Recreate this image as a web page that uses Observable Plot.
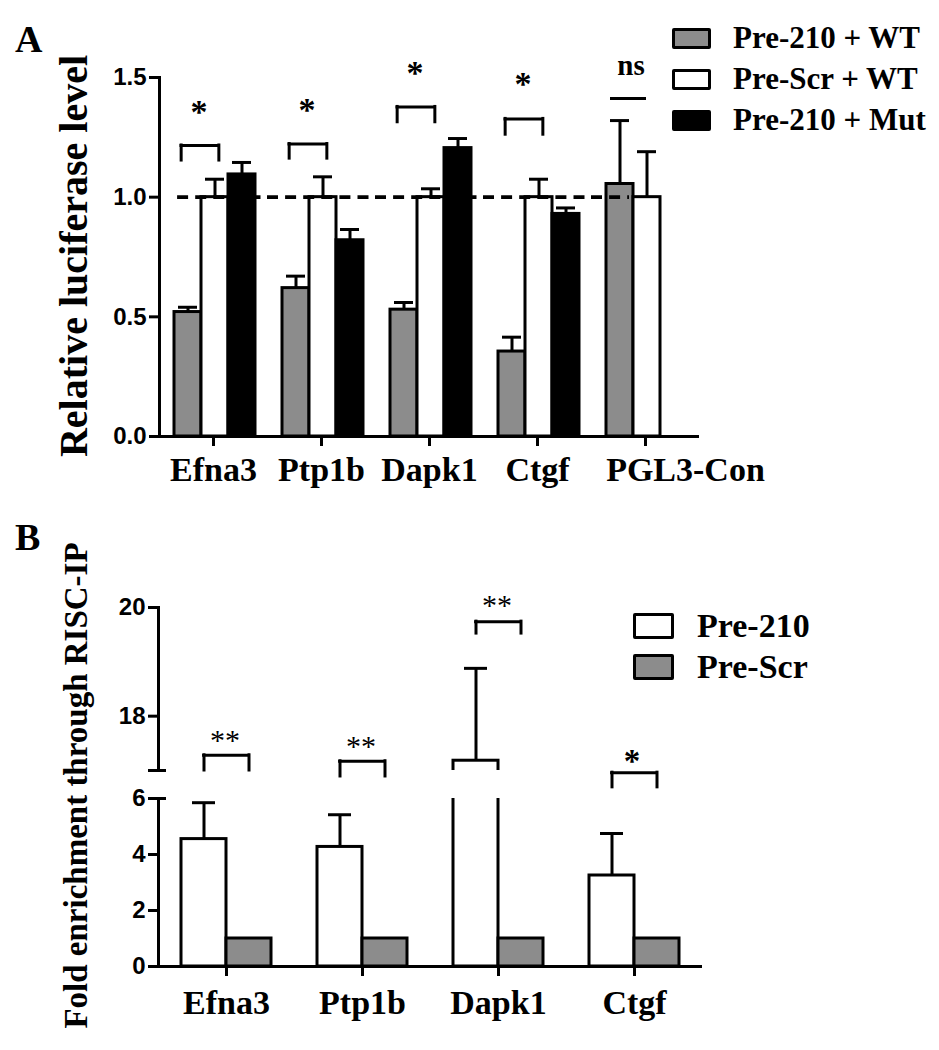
<!DOCTYPE html>
<html>
<head>
<meta charset="utf-8">
<script src="https://cdn.jsdelivr.net/npm/d3@7"></script>
<script src="https://cdn.jsdelivr.net/npm/@observablehq/plot@0.6"></script>
<style>
  body { margin: 0; background: #fff; }
  #root { position: relative; width: 939px; height: 1050px; overflow: hidden; background: #fff; }
  .lbl { position: absolute; font-family: "Liberation Serif", "Times New Roman", serif; font-weight: bold; color: #000; white-space: nowrap; line-height: 1; }
  .box { position: absolute; box-sizing: border-box; border: 3.5px solid #000; border-radius: 2px; }
  .holder { position: absolute; left: 0; }
</style>
</head>
<body>
<div id="root"></div>
<script>
// ---------------- Panel A data ----------------
const genesA = ["Efna3", "Ptp1b", "Dapk1", "Ctgf", "PGL3-Con"];
const seriesA = ["Pre-210 + WT", "Pre-Scr + WT", "Pre-210 + Mut"];
const colorsA = ["#8c8c8c", "#ffffff", "#000000"];
const meanPre210WT  = [0.52, 0.62, 0.53, 0.355, 1.055];
const errPre210WT   = [0.02, 0.05, 0.03, 0.06, 0.265];
const meanPreScrWT  = [1.0, 1.0, 1.0, 1.0, 1.0];
const errPreScrWT   = [0.075, 0.085, 0.035, 0.075, 0.19];
const meanPre210Mut = [1.095, 0.82, 1.205, 0.93, null];
const errPre210Mut  = [0.05, 0.045, 0.04, 0.025, null];
const ticksA = [0, 0.5, 1.0, 1.5];
const domainA = [0, 1.5];
const refLevel = 1.0;
// significance annotations (y in data units)
const sigGenesA  = ["Efna3", "Ptp1b", "Dapk1", "Ctgf", "PGL3-Con"];
const sigTopA    = [1.216, 1.222, 1.377, 1.327, 1.412];
const sigLegA    = [1.153, 1.161, 1.313, 1.261, null];
const sigLabelA  = ["*", "*", "*", "*", "ns"];
const sigLabelYA = [1.376, 1.385, 1.540, 1.492, 1.540];

// ---------------- Panel B data ----------------
const genesB = ["Efna3", "Ptp1b", "Dapk1", "Ctgf"];
const seriesB = ["Pre-210", "Pre-Scr"];
const colorsB = ["#ffffff", "#8c8c8c"];
const meanPre210 = [4.55, 4.27, 17.18, 3.25];
const errPre210  = [1.30, 1.15, 1.70, 1.50];
const meanPreScr = [1.0, 1.0, 1.0, 1.0];
const upperDomainB = [17, 20];
const lowerDomainB = [0, 6];
const ticksBUpper = [18, 20];
const ticksBLower = [0, 2, 4, 6];
const sigTopB    = [17.28, 17.17, 19.74, 16.96];
const sigLegB    = [17.00, 16.89, 19.52, 16.69];
const sigLabelB  = ["**", "**", "**", "*"];
const sigLabelYB = [17.64, 17.53, 20.13, 17.26];

// ---------------- build tables ----------------
const valuesA = [meanPre210WT, meanPreScrWT, meanPre210Mut];
const errsA = [errPre210WT, errPreScrWT, errPre210Mut];
const dataA = genesA.flatMap((g, i) => seriesA.map((s, j) => ({gene: g, series: s, value: valuesA[j][i], err: errsA[j][i]})))
  .filter(d => d.value != null);
const sigA = sigGenesA.map((g, i) => ({gene: g, top: sigTopA[i], leg: sigLegA[i], label: sigLabelA[i], labelY: sigLabelYA[i]}));

const valuesB = [meanPre210, meanPreScr];
const errsB = [errPre210, null];
const dataB = genesB.flatMap((g, i) => seriesB.map((s, j) => ({gene: g, series: s, value: valuesB[j][i], err: errsB[j] ? errsB[j][i] : null})));
const errDataB = dataB.filter(d => d.err != null);
const sigB = genesB.map((g, i) => ({gene: g, top: sigTopB[i], leg: sigLegB[i], label: sigLabelB[i], labelY: sigLabelYB[i]}));

const root = document.getElementById("root");
const SERIF = "Liberation Serif";
const SANS = "Liberation Sans";
const svgStyle = {overflow: "visible", background: "transparent", fontFamily: SANS};

// ---------------- Panel A plot ----------------
const plotA = Plot.plot({
  width: 939, height: 500,
  marginTop: 77, marginBottom: 64, marginLeft: 157, marginRight: 239,
  style: svgStyle,
  fx: {domain: genesA, padding: 0},
  x: {domain: seriesA, padding: 0, insetLeft: 14, insetRight: 11.5, axis: null},
  y: {domain: domainA},
  color: {domain: seriesA, range: colorsA},
  marks: [
    Plot.barY(dataA, {fx: "gene", x: "series", y: "value", fill: "series", stroke: "#000", strokeWidth: 3}),
    Plot.ruleY([genesA[0]], {fx: d => d, y: () => refLevel, stroke: "#000", strokeWidth: 3.8, strokeDasharray: "11,7.1", strokeDashoffset: 15, insetLeft: 15}),
    Plot.ruleY(genesA.slice(1, 4), {fx: d => d, y: () => refLevel, stroke: "#000", strokeWidth: 3.8, strokeDasharray: "11,7.1"}),
    Plot.ruleY([genesA[4]], {fx: d => d, y: () => refLevel, stroke: "#000", strokeWidth: 3.8, strokeDasharray: "11,7.1", insetRight: 70}),
    Plot.ruleX(dataA, {fx: "gene", x: "series", y1: "value", y2: d => d.value + d.err, strokeWidth: 3}),
    Plot.tickY(dataA, {fx: "gene", x: "series", y: d => d.value + d.err, strokeWidth: 3, insetLeft: 4, insetRight: 4}),
    // brackets
    Plot.ruleY(sigA.filter(d => d.leg != null), {fx: "gene", y: "top", x1: () => seriesA[0], x2: () => seriesA[1], insetLeft: 7, insetRight: 10, strokeWidth: 3, strokeLinecap: "square"}),
    Plot.ruleY(sigA.filter(d => d.leg == null), {fx: "gene", y: "top", x1: () => seriesA[0], x2: () => seriesA[1], insetLeft: 4, insetRight: 14, strokeWidth: 3}),
    Plot.ruleX(sigA.filter(d => d.leg != null), {fx: "gene", x: () => seriesA[0], y1: "leg", y2: "top", dx: -6.85, strokeWidth: 3, strokeLinecap: "square"}),
    Plot.ruleX(sigA.filter(d => d.leg != null), {fx: "gene", x: () => seriesA[1], y1: "leg", y2: "top", dx: 3.85, strokeWidth: 3, strokeLinecap: "square"}),
    Plot.text(sigA.filter(d => d.label !== "ns"), {fx: "gene", x: () => seriesA[0], y: "labelY", text: "label", dx: 11, dy: 5, fontSize: 34, fontFamily: SERIF, fontWeight: "bold", lineAnchor: "middle"}),
    Plot.text(sigA.filter(d => d.label === "ns"), {fx: "gene", x: () => seriesA[0], y: "labelY", text: "label", dx: 11, dy: -2, fontSize: 29, fontFamily: SERIF, fontWeight: "bold", lineAnchor: "middle"}),
    // axes
    Plot.ruleY([0], {strokeWidth: 3}),
    Plot.frame({anchor: "left", facetAnchor: "left", strokeWidth: 3, strokeLinecap: "square"}),
    Plot.axisY({ticks: ticksA, tickFormat: d3.format(".1f"), tickSize: 10, tickPadding: 3, strokeWidth: 3, fontSize: 24, fontWeight: "bold", fontFamily: SANS, label: null}),
    Plot.axisFx({anchor: "bottom", ticks: genesA, tickFormat: d => (d === genesA[4] ? "" : d), tickSize: 10, tickPadding: 10, strokeWidth: 3, fontSize: 34, fontWeight: "bold", fontFamily: SERIF, label: null}),
    Plot.axisFx({anchor: "bottom", ticks: [genesA[4]], tickSize: 0, tickPadding: 20, dx: 40, fontSize: 34, fontWeight: "bold", fontFamily: SERIF, label: null})
  ]
});

// ---------------- Panel B plots ----------------
const commonB = {
  width: 939, marginLeft: 157, marginRight: 236,
  style: svgStyle,
  x: {domain: seriesB, padding: 0, insetLeft: 23, insetRight: 23, axis: null},
  color: {domain: seriesB, range: colorsB}
};
const dataMarksB = [
  Plot.barY(dataB, {fx: "gene", x: "series", y: "value", fill: "series", stroke: "#000", strokeWidth: 3, clip: true}),
  Plot.ruleX(errDataB, {fx: "gene", x: "series", y1: "value", y2: d => d.value + d.err, strokeWidth: 3, clip: true}),
  Plot.tickY(errDataB, {fx: "gene", x: "series", y: d => d.value + d.err, strokeWidth: 3, insetLeft: 11, insetRight: 11, clip: true})
];

const plotBUpper = Plot.plot({
  ...commonB,
  height: 224, marginTop: 47, marginBottom: 14,
  fx: {domain: genesB, padding: 0, axis: null},
  y: {domain: upperDomainB},
  marks: [
    ...dataMarksB,
    Plot.ruleY(sigB, {fx: "gene", y: "top", x1: () => seriesB[0], x2: () => seriesB[1], insetLeft: 22.6, insetRight: 22.6, strokeWidth: 3, strokeLinecap: "square"}),
    Plot.ruleX(sigB, {fx: "gene", x: () => seriesB[0], y1: "leg", y2: "top", strokeWidth: 3, strokeLinecap: "square"}),
    Plot.ruleX(sigB, {fx: "gene", x: () => seriesB[1], y1: "leg", y2: "top", strokeWidth: 3, strokeLinecap: "square"}),
    Plot.text(sigB.filter(d => d.label === "**"), {fx: "gene", x: () => seriesB[0], y: "labelY", text: "label", dx: 21, dy: 5, fontSize: 30, fontFamily: SERIF, fontWeight: "normal", lineAnchor: "middle"}),
    Plot.text(sigB.filter(d => d.label === "*"), {fx: "gene", x: () => seriesB[0], y: "labelY", text: "label", dx: 20, dy: 5, fontSize: 33, fontFamily: SERIF, fontWeight: "bold", lineAnchor: "middle"}),
    Plot.frame({anchor: "left", facetAnchor: "left", strokeWidth: 3, strokeLinecap: "square"}),
    Plot.axisY({ticks: ticksBUpper, tickFormat: d3.format("d"), tickSize: 10, tickPadding: 3, strokeWidth: 3, fontSize: 24, fontWeight: "bold", fontFamily: SANS, label: null}),
    Plot.axisY({ticks: [upperDomainB[0]], tickSize: 10, strokeWidth: 3, fill: "none", label: null}),
    Plot.axisY({ticks: [upperDomainB[0]], tickSize: -8, strokeWidth: 3, fill: "none", label: null})
  ]
});

const plotBLower = Plot.plot({
  ...commonB,
  height: 266, marginTop: 14, marginBottom: 84,
  fx: {domain: genesB, padding: 0},
  y: {domain: lowerDomainB},
  marks: [
    ...dataMarksB,
    Plot.ruleY([0], {strokeWidth: 3}),
    Plot.frame({anchor: "left", facetAnchor: "left", strokeWidth: 3, strokeLinecap: "square"}),
    Plot.axisY({ticks: ticksBLower, tickFormat: d3.format("d"), tickSize: 10, tickPadding: 3, strokeWidth: 3, fontSize: 24, fontWeight: "bold", fontFamily: SANS, label: null}),
    Plot.axisY({ticks: [lowerDomainB[1]], tickSize: -8, strokeWidth: 3, fill: "none", label: null}),
    Plot.axisFx({anchor: "bottom", tickSize: 10, tickPadding: 13, strokeWidth: 3, fontSize: 34, fontWeight: "bold", fontFamily: SERIF, label: null})
  ]
});

function place(node, top) {
  const h = document.createElement("div");
  h.className = "holder";
  h.style.top = top + "px";
  h.append(node);
  root.append(h);
}
place(plotA, 0);
place(plotBUpper, 560);
place(plotBLower, 784);

// ---------------- HTML labels & legends ----------------
function label(txt, left, baseline, size) {
  const d = document.createElement("div");
  d.className = "lbl";
  d.textContent = txt;
  d.style.fontSize = size + "px";
  d.style.left = left + "px";
  d.style.top = (baseline - 0.8375 * size) + "px";
  root.append(d);
  return d;
}
function vtitle(txt, cx, cy, size) {
  const L = 700;
  const d = document.createElement("div");
  d.className = "lbl";
  d.textContent = txt;
  Object.assign(d.style, {
    left: (cx - L / 2) + "px", top: (cy - size / 2) + "px", width: L + "px", height: size + "px",
    fontSize: size + "px", lineHeight: size + "px", textAlign: "center",
    transform: "rotate(-90deg)", transformOrigin: "50% 50%"
  });
  root.append(d);
}
function box(left, top, w, h, fill) {
  const b = document.createElement("div");
  b.className = "box";
  Object.assign(b.style, {left: left + "px", top: top + "px", width: w + "px", height: h + "px", background: fill});
  root.append(b);
}

label("A", 15, 52, 38);
label("B", 15, 550, 38);
vtitle("Relative luciferase level", 74, 256, 40);
vtitle("Fold enrichment through RISC-IP", 76, 785, 33);

// legend A
seriesA.forEach((s, i) => {
  box(672, 28 + i * 41, 39, 21, colorsA[i]);
  label(s, 733, 48 + i * 41, 31);
});
// legend B
seriesB.forEach((s, i) => {
  box(633, 613 + i * 41, 41, 26, colorsB[i]);
  label(s, 697, 637 + i * 41, 34);
});
</script>
</body>
</html>
